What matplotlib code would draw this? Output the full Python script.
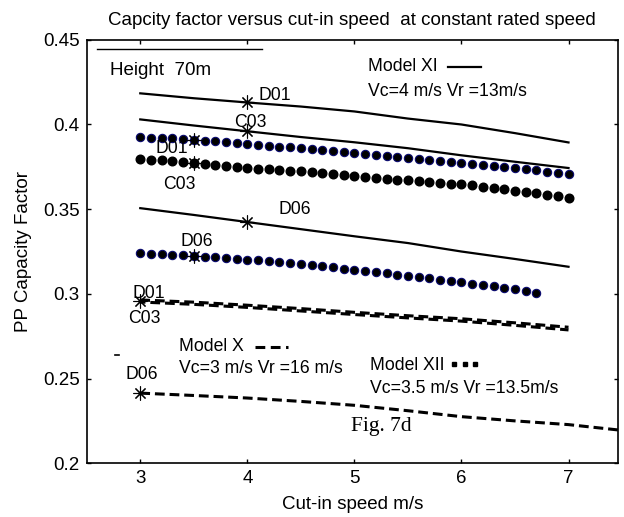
import matplotlib
matplotlib.use("Agg")
import matplotlib.pyplot as plt

plt.rcParams['font.family'] = ['Liberation Sans', 'DejaVu Sans']

# ---------------- data ----------------
x_line = [3.0, 3.5, 4.0, 4.5, 5.0, 5.5, 6.0, 6.5, 7.0]

# Model XI (solid)
xi_d01 = [0.4184, 0.4155, 0.4130, 0.4106, 0.4077, 0.4035, 0.4000, 0.3949, 0.3894]
xi_c03 = [0.4030, 0.3994, 0.3960, 0.3926, 0.3895, 0.3860, 0.3818, 0.3780, 0.3743]
xi_d06 = [0.3506, 0.3466, 0.3424, 0.3382, 0.3340, 0.3300, 0.3250, 0.3206, 0.3160]

# Model X (dashed)
x_d01 = [0.2964, 0.2951, 0.2933, 0.2913, 0.2891, 0.2871, 0.2853, 0.2829, 0.2803]
x_c03 = [0.2952, 0.2938, 0.2920, 0.2899, 0.2878, 0.2858, 0.2839, 0.2814, 0.2787]
x_line_d06 = [3.0, 3.5, 4.0, 4.5, 5.0, 5.5, 6.0, 6.5, 7.0, 7.5]
x_d06 = [0.2414, 0.2400, 0.2385, 0.2365, 0.2342, 0.2310, 0.2275, 0.2250, 0.2228, 0.2194]

# Model XII (dotted markers)
x_dots = [3.0, 3.1, 3.2, 3.3, 3.4, 3.5, 3.6, 3.7, 3.8, 3.9, 4.0, 4.1, 4.2, 4.3,
          4.4, 4.5, 4.6, 4.7, 4.8, 4.9, 5.0, 5.1, 5.2, 5.3, 5.4, 5.5, 5.6, 5.7,
          5.8, 5.9, 6.0, 6.1, 6.2, 6.3, 6.4, 6.5, 6.6, 6.7, 6.8, 6.9, 7.0]
xii_d01 = [0.3924, 0.3922, 0.3920, 0.3918, 0.3914, 0.3910, 0.3905, 0.3900, 0.3895,
           0.3890, 0.3885, 0.3880, 0.3875, 0.3870, 0.3865, 0.3860, 0.3854, 0.3848,
           0.3842, 0.3836, 0.3830, 0.3824, 0.3818, 0.3812, 0.3806, 0.3800, 0.3794,
           0.3788, 0.3782, 0.3776, 0.3770, 0.3765, 0.3760, 0.3754, 0.3748, 0.3742,
           0.3736, 0.3730, 0.3722, 0.3714, 0.3706]
xii_c03 = [0.3794, 0.3792, 0.3788, 0.3784, 0.3779, 0.3773, 0.3768, 0.3762, 0.3756,
           0.3750, 0.3745, 0.3740, 0.3735, 0.3730, 0.3727, 0.3724, 0.3718, 0.3712,
           0.3706, 0.3701, 0.3696, 0.3691, 0.3686, 0.3680, 0.3675, 0.3670, 0.3665,
           0.3660, 0.3655, 0.3651, 0.3647, 0.3640, 0.3633, 0.3626, 0.3618, 0.3610,
           0.3602, 0.3594, 0.3585, 0.3576, 0.3567]
xii_d06 = [0.3240, 0.3237, 0.3234, 0.3231, 0.3228, 0.3224, 0.3220, 0.3216, 0.3212,
           0.3207, 0.3202, 0.3197, 0.3192, 0.3187, 0.3182, 0.3177, 0.3170, 0.3163,
           0.3156, 0.3149, 0.3142, 0.3135, 0.3128, 0.3121, 0.3114, 0.3107, 0.3100,
           0.3092, 0.3084, 0.3076, 0.3068, 0.3060, 0.3052, 0.3044, 0.3036, 0.3027,
           0.3018, 0.3008]

# star markers (x, y)
star_x = [4.0, 4.0, 4.0, 3.5, 3.5, 3.5, 3.0, 3.0]
star_y = [0.4133, 0.3960, 0.3424, 0.3910, 0.3773, 0.3224, 0.2960, 0.2414]

# point labels: text, x, y
point_labels = [
    ("D01", 4.10, 0.4170), ("C03", 3.88, 0.4010), ("D06", 4.29, 0.3500),
    ("D01", 3.14, 0.3860), ("C03", 3.21, 0.3647), ("D06", 3.38, 0.3310),
    ("D01", 2.93, 0.3000), ("C03", 2.89, 0.2853), ("D06", 2.86, 0.2523),
]

x_ticks = [3, 4, 5, 6, 7]
y_ticks = [0.2, 0.25, 0.3, 0.35, 0.4, 0.45]
y_ticklabels = ["0.2", "0.25", "0.3", "0.35", "0.4", "0.45"]

# ---------------- figure ----------------
fig = plt.figure(figsize=(6.24, 5.17), dpi=100)
ax = fig.add_axes([0.139, 0.104, 0.851, 0.819])
FS = 13.5
FS2 = 12.7

star = (8, 2, 0)
dash = (0, (3.2, 1.6))

ax.plot(x_line, xi_d01, color='black', lw=1.6)
ax.plot(x_line, xi_c03, color='black', lw=1.6)
ax.plot(x_line, xi_d06, color='black', lw=1.6)

ax.plot(x_line, x_d01, color='black', lw=2.2, linestyle=dash)
ax.plot(x_line, x_c03, color='black', lw=2.2, linestyle=(1.5, (3.2, 1.6)))
ax.plot(x_line_d06, x_d06, color='black', lw=2.2, linestyle=dash)

ax.plot(x_dots, xii_d01, linestyle='none', marker='o', ms=6.0,
        markerfacecolor='black', markeredgecolor='#0a0a70', markeredgewidth=0.8)
ax.plot(x_dots, xii_c03, linestyle='none', marker='o', ms=6.2,
        markerfacecolor='black', markeredgecolor='black')
ax.plot(x_dots[:len(xii_d06)], xii_d06, linestyle='none', marker='o', ms=6.0,
        markerfacecolor='black', markeredgecolor='#0a0a70', markeredgewidth=0.8)

ax.plot(star_x, star_y, linestyle='none', marker=star, ms=10,
        markeredgecolor='black', markeredgewidth=0.8, markerfacecolor='none')

for t, px, py in point_labels:
    ax.text(px, py, t, fontsize=FS2, va='center', ha='left')

# annotations
ax.text(2.72, 0.4318, "Height  70m", fontsize=FS, va='center', ha='left')
ax.text(5.13, 0.4340, "Model XI", fontsize=FS2, va='center', ha='left')
ax.text(5.13, 0.4194, "Vc=4 m/s Vr =13m/s", fontsize=FS2, va='center', ha='left')
ax.text(3.365, 0.2688, "Model X", fontsize=FS2, va='center', ha='left')
ax.text(3.365, 0.2559, "Vc=3 m/s Vr =16 m/s", fontsize=FS2, va='center', ha='left')
ax.text(5.15, 0.2576, "Model XII", fontsize=FS2, va='center', ha='left')
ax.text(5.15, 0.2441, "Vc=3.5 m/s Vr =13.5m/s", fontsize=FS2, va='center', ha='left')
ax.text(4.97, 0.2218, "Fig. 7d", fontsize=15.5, va='center', ha='left',
        family=['Liberation Serif', 'DejaVu Serif'])

# legend samples
leg_xi_x = [5.87, 6.18]
leg_xi_y = [0.4340, 0.4340]
leg_x_x = [4.07, 4.38]
leg_x_y = [0.2688, 0.2688]
leg_xii_x = [5.93, 6.03, 6.13]
leg_xii_y = [0.2588, 0.2588, 0.2588]
ax.plot(leg_xi_x, leg_xi_y, color='black', lw=1.6)
ax.plot(leg_x_x, leg_x_y, color='black', lw=2.2, linestyle=(0, (3.2, 1.8)))
ax.plot(leg_xii_x, leg_xii_y, linestyle='none', marker='s', ms=3.5, color='black')

# stray line segments of the original
ax.plot([2.6, 4.14], [0.4447, 0.4447], color='black', lw=1.0)
ax.plot([2.76, 2.80], [0.264, 0.264], color='black', lw=1.2)

ax.set_xlim(2.5, 7.46)
ax.set_ylim(0.2, 0.45)
ax.set_xticks(x_ticks)
ax.set_yticks(y_ticks)
ax.set_yticklabels(y_ticklabels)
ax.tick_params(direction='in', length=3, width=1, top=True, right=True,
               labelsize=FS, pad=5)
for s in ax.spines.values():
    s.set_linewidth(1.2)

ax.set_xlabel("Cut-in speed m/s", fontsize=FS, labelpad=6)
ax.set_ylabel("PP Capacity Factor", fontsize=FS, labelpad=8)
ax.set_title("Capcity factor versus cut-in speed  at constant rated speed",
             fontsize=FS, pad=11)

fig.savefig("out.png", dpi=100)
